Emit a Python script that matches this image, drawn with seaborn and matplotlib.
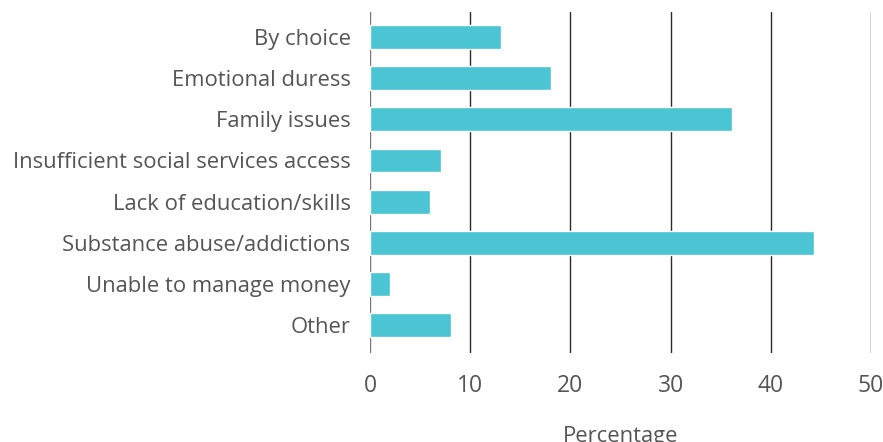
import matplotlib
matplotlib.use("Agg")
import matplotlib.pyplot as plt
import seaborn as sns
import pandas as pd

categories = [
    "By choice",
    "Emotional duress",
    "Family issues",
    "Insufficient social services access",
    "Lack of education/skills",
    "Substance abuse/addictions",
    "Unable to manage money",
    "Other",
]
percentages = [13.1, 18.1, 36.1, 7.1, 6.0, 44.3, 2.0, 8.1]
x_ticks = [0, 10, 20, 30, 40, 50]

df = pd.DataFrame({"reason": categories, "pct": percentages})

sns.set_theme(style="white")
plt.rcParams["font.family"] = ["Open Sans", "DejaVu Sans"]

fig = plt.figure(figsize=(8.83, 4.42), dpi=100)
ax = fig.add_axes([370 / 883, 1 - 353 / 442, 501 / 883, 341 / 442])

sns.barplot(data=df, x="pct", y="reason", orient="h", color="#4BC4D3",
            saturation=1, width=0.58, ax=ax, zorder=3)

ax.set_xlim(0, 50)
ax.set_ylim(7.68, -0.61)
ax.set_xticks(x_ticks)
ax.set_xticklabels([str(t) for t in x_ticks])
for t in x_ticks:
    ax.axvline(t, color="#2b2b2b" if t else "#777777", lw=1.0, zorder=1)

for s in ax.spines.values():
    s.set_visible(False)

ax.tick_params(axis="y", length=0, pad=14, labelsize=15.8, labelcolor="#555555")
ax.tick_params(axis="x", length=0, pad=15, labelsize=16.5, labelcolor="#555555")
ax.set_ylabel("")
ax.set_xlabel("Percentage", fontsize=15.8, color="#555555", labelpad=20)

fig.savefig("out.png", dpi=100)
